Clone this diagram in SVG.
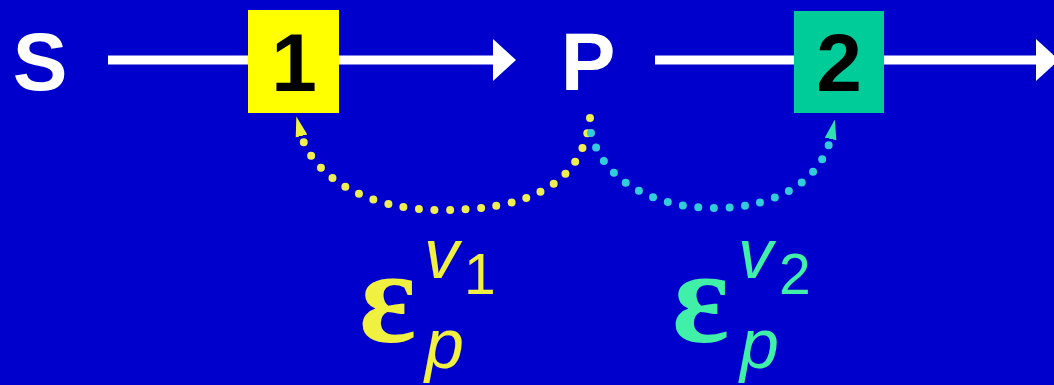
<svg xmlns="http://www.w3.org/2000/svg" width="1054" height="385" viewBox="0 0 1054 385">
  <defs>
    <style>
      .lbl { font-family: "Liberation Sans", Arial, sans-serif; font-weight: bold; font-size: 82px; }
      .flow { stroke: #FFFFFF; stroke-width: 9; fill: none; }
      .head { fill: #FFFFFF; }
      .dots { fill: none; stroke-width: 8; stroke-linecap: round; stroke-dasharray: 0 15.5; }
      .eps { font-family: "Liberation Serif", "Times New Roman", serif; font-weight: bold; font-size: 134px; }
      .it { font-family: "Liberation Sans", Arial, sans-serif; font-style: italic; font-size: 70px; }
      .sub { font-family: "Liberation Sans", Arial, sans-serif; font-size: 57px; }
    </style>
    <marker id="ahY" markerUnits="userSpaceOnUse" markerWidth="24" markerHeight="20" refX="2" refY="8" orient="auto" viewBox="0 0 24 16">
      <polygon points="0,2 20,8 0,14" fill="#F0F040"/>
    </marker>
    <marker id="ahC" markerUnits="userSpaceOnUse" markerWidth="24" markerHeight="20" refX="2" refY="8" orient="auto" viewBox="0 0 24 16">
      <polygon points="0,2 20,8 0,14" fill="#30E0B0"/>
    </marker>
  </defs>
  <rect x="0" y="0" width="1054" height="385" fill="#0000CC"/>

  <g id="connectors">
    <line class="flow" x1="108" y1="60" x2="495" y2="60"/>
    <polygon class="head" points="493,39 516,60 493,81"/>
    <line class="flow" x1="655" y1="60" x2="1038" y2="60"/>
    <polygon class="head" points="1036,39 1059,60 1036,81"/>
    <path class="dots" stroke="#EEEE50" d="M590,118 C582,190 520,210 440,210 C365,210 312,175 301,134" marker-end="url(#ahY)"/>
    <path class="dots" stroke="#33CCDD" d="M591,133 C602,178 650,208 715,208 C780,208 822,178 831,137" marker-end="url(#ahC)"/>
  </g>

  <g id="node-S">
    <text class="lbl" x="40" y="90" text-anchor="middle" fill="#FFFFFF">S</text>
  </g>
  <g id="node-1">
    <rect x="248" y="10" width="91" height="103" fill="#FFFF00"/>
    <text class="lbl" x="294" y="91" text-anchor="middle" fill="#000000">1</text>
  </g>
  <g id="node-P">
    <text class="lbl" x="588" y="90" text-anchor="middle" fill="#FFFFFF">P</text>
  </g>
  <g id="node-2">
    <rect x="794" y="11" width="90" height="102" fill="#00CC99"/>
    <text class="lbl" x="839" y="91" text-anchor="middle" fill="#000000">2</text>
  </g>

  <g id="label-1" fill="#F0F040">
    <text class="eps" x="359" y="342">ε</text>
    <text class="it" x="424" y="278">v</text>
    <text class="sub" x="464" y="294">1</text>
    <text class="it" x="425" y="368">p</text>
  </g>
  <g id="label-2" fill="#40F0A8">
    <text class="eps" x="672" y="342">ε</text>
    <text class="it" x="738" y="278">v</text>
    <text class="sub" x="779" y="294">2</text>
    <text class="it" x="740" y="368">p</text>
  </g>
</svg>
